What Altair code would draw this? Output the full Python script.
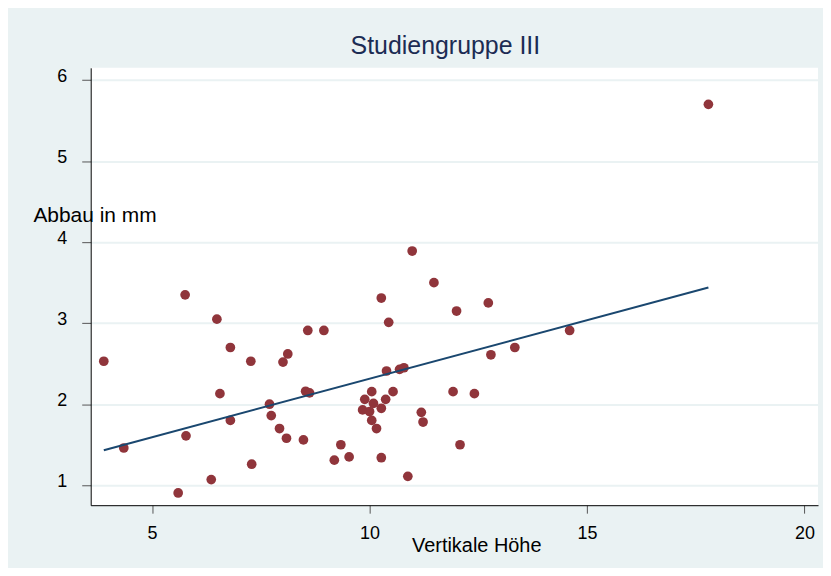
import altair as alt
import pandas as pd

# Vertikale Höhe (x) and Abbau in mm (y)
hoehe = [3.89, 4.35, 5.60, 5.76, 5.78, 6.36, 6.49, 6.56, 6.80, 6.80,
         7.27, 7.29, 7.70, 7.74, 7.93, 8.01, 8.09, 8.12, 8.48, 8.53,
         8.58, 8.62, 8.95, 9.19, 9.34, 9.53, 9.84, 9.89, 10.00, 10.05,
         10.05, 10.09, 10.16, 10.27, 10.27, 10.27, 10.37, 10.39, 10.44, 10.54,
         10.69, 10.79, 10.88, 10.98, 11.19, 11.23, 11.48, 11.92, 12.00, 12.08,
         12.41, 12.73, 12.79, 13.34, 14.60, 17.79]
abbau = [2.53, 1.46, 0.905, 3.35, 1.61, 1.07, 3.05, 2.13, 2.70, 1.80,
         2.53, 1.26, 2.00, 1.86, 1.70, 2.52, 1.58, 2.62, 1.56, 2.16,
         2.91, 2.14, 2.91, 1.31, 1.50, 1.35, 1.93, 2.06, 1.91, 2.155,
         1.80, 2.01, 1.70, 3.31, 1.95, 1.34, 2.06, 2.41, 3.01, 2.155,
         2.43, 2.45, 1.11, 3.89, 1.90, 1.78, 3.50, 2.155, 3.15, 1.50,
         2.13, 3.25, 2.61, 2.70, 2.91, 5.70]

x_ticks = [5, 10, 15, 20]
y_ticks = [1, 2, 3, 4, 5, 6]

df = pd.DataFrame({"hoehe": hoehe, "abbau": abbau})

FONT = "Liberation Sans"
BG = "#EAF2F3"

xscale = alt.Scale(domain=[3.589, 20.31], nice=False, zero=False)
yscale = alt.Scale(domain=[0.754, 6.151], nice=False, zero=False)

xaxis = alt.Axis(
    values=x_ticks, grid=False, title="Vertikale Höhe", format="d",
    tickSize=8, tickColor="#555555", tickWidth=1,
    domainColor="#000000", domainWidth=1,
    labelFont=FONT, labelFontSize=18, labelColor="#000000", labelPadding=11,
    titleFont=FONT, titleFontSize=20, titleFontWeight="normal", titleColor="#000000",
    titleX=387, titleY=46, titleAlign="center", titleBaseline="alphabetic",
)
yaxis = alt.Axis(
    values=y_ticks, grid=True, gridColor=BG, gridWidth=2, format="d",
    title="Abbau in mm", titleAngle=0, titleAlign="left", titleBaseline="alphabetic",
    titleX=-58, titleY=154,
    titleFont=FONT, titleFontSize=21, titleFontWeight="normal", titleColor="#000000",
    tickSize=9, tickColor="#555555", tickWidth=1,
    domainColor="#000000", domainWidth=1,
    labelFont=FONT, labelFontSize=18, labelColor="#000000", labelPadding=15,
    labelBaseline="middle", labelOffset=-4,
)

points = alt.Chart(df).mark_circle(size=95, color="#90353B", opacity=1).encode(
    x=alt.X("hoehe:Q", scale=xscale, axis=xaxis),
    y=alt.Y("abbau:Q", scale=yscale, axis=yaxis),
)

fit = alt.Chart(df).transform_regression("hoehe", "abbau").mark_line(
    color="#1A476F", strokeWidth=2
).encode(
    x=alt.X("hoehe:Q", scale=xscale),
    y=alt.Y("abbau:Q", scale=yscale),
)

chart = alt.layer(points, fit).properties(
    width=730,
    height=439,
    title=alt.TitleParams(
        "Studiengruppe III", font=FONT, fontSize=25, fontWeight="normal",
        color="#1C2C54", anchor="middle", baseline="alphabetic", offset=13, dx=-9, dy=25,
    ),
    autosize=alt.AutoSizeParams(type="none"),
    padding={"left": 83, "top": 59, "right": 5, "bottom": 62},
    background=BG,
).configure_view(fill="white", stroke=None)

chart.save("out.html", embed_options={"renderer": "svg", "actions": False})
